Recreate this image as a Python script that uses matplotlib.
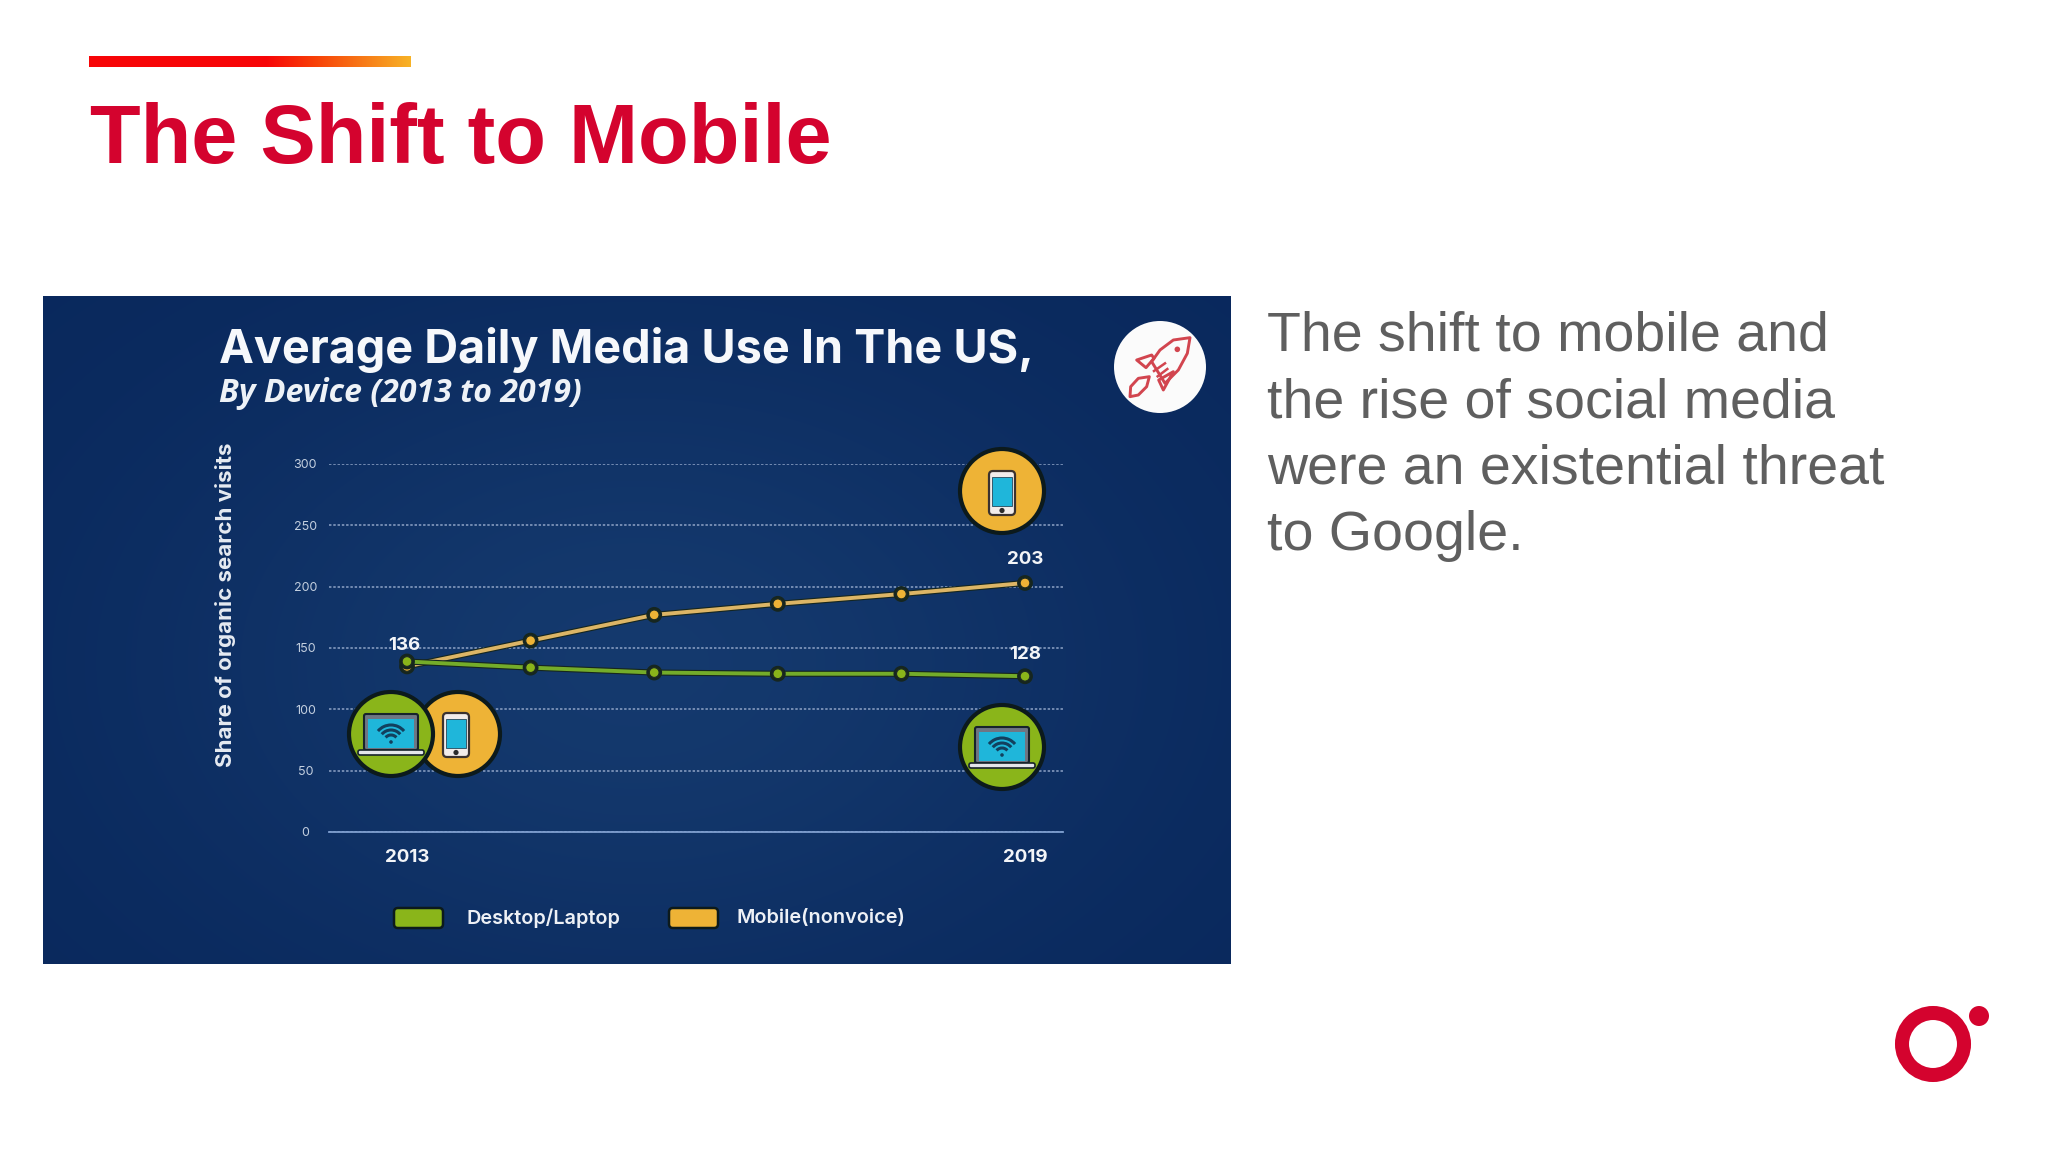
import matplotlib
matplotlib.use("Agg")
import matplotlib.patheffects as pe
import matplotlib.pyplot as plt
import numpy as np
from matplotlib.patches import Arc, Circle, FancyBboxPatch, Polygon, Rectangle

W, H = 2048, 1152

# data
points = [0, 1, 2, 3, 4, 5]
mobile = [135, 156, 177, 186, 194, 203]
desktop = [139, 134, 130, 129, 129, 127]
y_ticks = [0, 50, 100, 150, 200, 250, 300]
x_ticks = [0, 5]
x_labels = ["2013", "2019"]
value_labels = ["136", "203", "128"]
body_lines = ["The shift to mobile and", "the rise of social media",
              "were an existential threat", "to Google."]

RED = "#d4032e"
GREEN = "#8ab51a"
GOLD = "#eeb336"
EDGE = "#0c1a1c"
SCREEN = "#1fb6da"
CHART_FONT = ["Inter", "DejaVu Sans"]
SLIDE_FONT = ["Liberation Sans", "DejaVu Sans"]

fig = plt.figure(figsize=(W / 100, H / 100), dpi=100, facecolor="white")


def px_axes(zorder):
    a = fig.add_axes([0, 0, 1, 1], zorder=zorder)
    a.set_xlim(0, W)
    a.set_ylim(H, 0)
    a.axis("off")
    a.patch.set_alpha(0)
    return a


def draw_laptop(a, cx, cy):
    a.add_patch(FancyBboxPatch((cx - 27, cy - 20), 54, 36, boxstyle="round,pad=0,rounding_size=2",
                               fc="#6f7683", ec="#17232b", lw=1.5, zorder=5))
    a.add_patch(Rectangle((cx - 23, cy - 15), 46, 29, fc=SCREEN, ec="none", zorder=6))
    a.add_patch(FancyBboxPatch((cx - 33, cy + 16), 66, 5, boxstyle="round,pad=0,rounding_size=2",
                               fc="#e4e6ea", ec="#17232b", lw=1.2, zorder=6))
    for r in (7, 12, 17):
        a.add_patch(Arc((cx, cy + 8), r * 2, r * 2, theta1=220, theta2=320,
                        color="#12405e", lw=2.2, zorder=7))
    a.add_patch(Circle((cx, cy + 8), 1.8, fc="#12405e", ec="none", zorder=7))


def draw_phone(a, cx, cy):
    a.add_patch(FancyBboxPatch((cx - 13, cy - 22), 26, 44, boxstyle="round,pad=0,rounding_size=4",
                               fc="#f2ecea", ec="#3a3230", lw=1.6, zorder=5))
    a.add_patch(Rectangle((cx - 10, cy - 16), 20, 29, fc=SCREEN, ec="#27485a", lw=0.6, zorder=6))
    a.add_patch(Circle((cx, cy + 17.5), 2.6, fc="#2b2b2b", ec="none", zorder=6))


# slide background layer
bg = px_axes(0)

bar = np.linspace(0, 1, 256).reshape(1, -1, 1)
bar_rgb = np.clip(np.concatenate([
    np.full_like(bar, 0.97),
    np.where(bar < 0.55, 0.02, (bar - 0.55) / 0.45 * 0.68 + 0.02),
    np.full_like(bar, 0.03) + np.where(bar > 0.7, (bar - 0.7) * 0.4, 0),
], axis=2), 0, 1)
bg.imshow(bar_rgb, extent=(89, 411, 67, 56), aspect="auto", zorder=1)

bg.text(90, 163, "The Shift to Mobile", family=SLIDE_FONT, weight="bold", fontsize=59.8,
        color=RED, va="baseline", ha="left")

for i, line in enumerate(body_lines):
    bg.text(1267, 350.5 + i * 66.6, line, family=SLIDE_FONT, fontsize=40, color="#5f5f5f",
            va="baseline", ha="left")

# navy panel with soft glow
yy, xx = np.mgrid[0:1:200j, 0:1:300j]
glow = np.exp(-(((xx - 0.5) / 0.42) ** 2 + ((yy - 0.55) / 0.5) ** 2))
edge_col = np.array([0.035, 0.155, 0.36])
mid_col = np.array([0.08, 0.225, 0.43])
panel = edge_col + (mid_col - edge_col) * glow[..., None]
bg.imshow(panel, extent=(43, 1231, 964, 296), aspect="auto", zorder=1, interpolation="bilinear")
bg.set_xlim(0, W)
bg.set_ylim(H, 0)

bg.text(219, 363, "Average Daily Media Use In The US,", family=CHART_FONT, weight="bold",
        fontsize=33.7, color="#f6f8fb", va="baseline", ha="left", zorder=3)
bg.text(219, 402, "By Device (2013 to 2019)", family=["Open Sans", "DejaVu Sans"], weight="bold",
        style="italic", fontsize=23, color="#eef2f7", va="baseline", ha="left", zorder=3)

# chart, placed so the scales land on the panel's plot area
left, right, top, bottom = 329, 1063, 464, 832
ax = fig.add_axes([left / W, 1 - bottom / H, (right - left) / W, (bottom - top) / H], zorder=1)
ax.patch.set_alpha(0)
ax.set_xlim((left - 407) / 123.6, (right - 407) / 123.6)
ax.set_ylim(0, 300)
for s in ("top", "right", "left"):
    ax.spines[s].set_visible(False)
ax.spines["bottom"].set_color("#7f9fd0")
ax.spines["bottom"].set_linewidth(1.3)
ax.set_yticks(y_ticks)
ax.set_xticks(x_ticks, x_labels)
ax.yaxis.grid(True, color="#8ea3c6", lw=1.1, ls=(0, (1.6, 1.2)))
ax.set_axisbelow(True)
ax.tick_params(axis="y", length=0, pad=17, labelsize=9, labelcolor="#c3cfdf")
for lab in ax.get_yticklabels():
    lab.set_ha("center")
    lab.set_family(CHART_FONT)
ax.tick_params(axis="x", length=0, pad=12.5, labelsize=13.5, labelcolor="#f3f5f8")
for lab in ax.get_xticklabels():
    lab.set_family(CHART_FONT)
    lab.set_weight("bold")

outline = [pe.Stroke(linewidth=4.4, foreground="#16261f"), pe.Normal()]
ax.plot(points, mobile, color="#dcb566", lw=2.8, zorder=3, path_effects=outline,
        marker="o", ms=7, mfc=GOLD, mec="#1d2a22", mew=0.8)
ax.plot(points, desktop, color="#74ac2a", lw=2.8, zorder=4, path_effects=outline,
        marker="o", ms=7, mfc=GREEN, mec="#1d2a22", mew=0.8)

ax.text(points[0] - 0.02, 152, value_labels[0], family=CHART_FONT, weight="bold", fontsize=13.5,
        color="#f3f5f8", ha="center", va="center")
ax.text(points[5], 222, value_labels[1], family=CHART_FONT, weight="bold", fontsize=13.5,
        color="#f3f5f8", ha="center", va="center")
ax.text(points[5], 145, value_labels[2], family=CHART_FONT, weight="bold", fontsize=13.5,
        color="#f3f5f8", ha="center", va="center")

# icons and legend sit above the chart
top_ax = px_axes(2)
top_ax.text(225, 605, "Share of organic search visits", family=CHART_FONT, weight="bold",
            fontsize=16.1, color="#e6ebf2", rotation=90, ha="center", va="center")

top_ax.add_patch(Circle((458, 734), 42, fc=GOLD, ec=EDGE, lw=3, zorder=3))
top_ax.add_patch(Circle((391, 734), 42, fc=GREEN, ec=EDGE, lw=3, zorder=4))
draw_laptop(top_ax, 391, 734)
draw_phone(top_ax, 456, 735)

top_ax.add_patch(Circle((1002, 491), 42, fc=GOLD, ec=EDGE, lw=3, zorder=3))
draw_phone(top_ax, 1002, 493)
top_ax.add_patch(Circle((1002, 747), 42, fc=GREEN, ec=EDGE, lw=3, zorder=3))
draw_laptop(top_ax, 1002, 747)

# rocket badge
top_ax.add_patch(Circle((1160, 367), 46, fc="#fbfbfb", ec="none", zorder=3))
rocket = [
    [(240, 68), (190, 75), (150, 105), (125, 140), (165, 205), (205, 165), (232, 115)],
    [(125, 120), (80, 135), (108, 158), (132, 130)],
    [(190, 170), (160, 225), (146, 195)],
    [(60, 245), (62, 215), (85, 190), (118, 185), (110, 215), (85, 240)],
]
for shape in rocket:
    pts = [(1110 + x / 3, 315 + y / 3) for x, y in shape]
    top_ax.add_patch(Polygon(pts, closed=True, fc="none", ec="#d2454f", lw=2.1, joinstyle="round", zorder=4))
top_ax.add_patch(Circle((1110 + 202 / 3, 315 + 103 / 3), 2.8, fc="#d2454f", ec="none", zorder=4))
top_ax.plot([1110 + 132 / 3, 1110 + 165 / 3], [315 + 168 / 3, 315 + 145 / 3], color="#d2454f", lw=1.8, zorder=4)
top_ax.plot([1110 + 143 / 3, 1110 + 172 / 3], [315 + 184 / 3, 315 + 162 / 3], color="#d2454f", lw=1.8, zorder=4)

# legend
for x0, col, label, tx in [(394, GREEN, "Desktop/Laptop", 466), (669, GOLD, "Mobile(nonvoice)", 737)]:
    top_ax.add_patch(FancyBboxPatch((x0, 908), 49, 20, boxstyle="round,pad=0,rounding_size=4",
                                    fc=col, ec=EDGE, lw=1.8, zorder=3))
    top_ax.text(tx, 918, label, family=CHART_FONT, weight="semibold", fontsize=14.3,
                color="#eef1f6", ha="left", va="center")

# logo
top_ax.add_patch(Circle((1933, 1044), 31, fc="none", ec=RED, lw=10.1, zorder=3))
top_ax.add_patch(Circle((1979, 1016), 10, fc=RED, ec="none", zorder=3))

fig.savefig("out.png", dpi=100, facecolor="white")
